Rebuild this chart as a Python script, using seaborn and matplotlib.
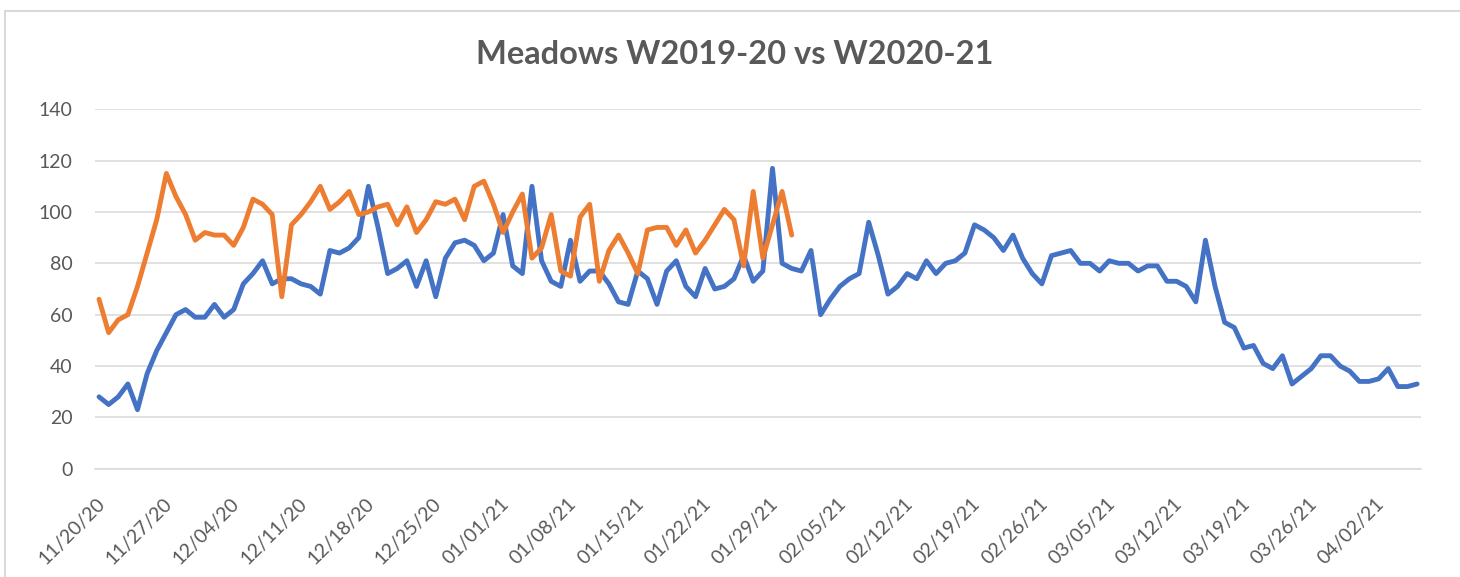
import numpy as np
import pandas as pd
import matplotlib
matplotlib.use("Agg")
import matplotlib.pyplot as plt
import matplotlib.dates as mdates
from matplotlib.patches import Rectangle
from matplotlib.transforms import ScaledTranslation
import seaborn as sns

# daily values, 11/20/20 onwards
blue_vals = [28, 25, 28, 33, 23, 37, 46, 53, 60, 62, 59, 59, 64, 59, 62, 72, 76, 81, 72, 74,
             74, 72, 71, 68, 85, 84, 86, 90, 110, 94, 76,
             78, 81, 71, 81, 67, 82, 88, 89, 87, 81, 84, 99, 79, 76, 110, 81, 73, 71, 89,
             73, 77, 77, 72, 65, 64, 77, 74, 64, 77,
             81, 71, 67, 78, 70, 71, 74, 83, 73, 77, 117, 80, 78, 77, 85, 60, 66, 71, 74, 76,
             96, 83, 68, 71, 76, 74, 81, 76, 80,
             81, 84, 95, 93, 90, 85, 91, 82, 76, 72, 83, 84, 85, 80, 80, 77, 81, 80, 80, 77,
             79, 79, 73, 73, 71, 65, 89, 71, 57,
             55, 47, 48, 41, 39, 44, 33, 36, 39, 44, 44, 40, 38, 34, 34, 35, 39, 32, 32, 33]
orange_vals = [66, 53, 58, 60, 71, 84, 97, 115, 106, 99, 89, 92, 91, 91, 87, 94, 105, 103, 99, 67,
               95, 99, 104, 110, 101, 104, 108, 99, 100, 102, 103,
               95, 102, 92, 97, 104, 103, 105, 97, 110, 112, 103, 92, 100, 107, 82, 86, 99, 77, 75,
               98, 103, 73, 85, 91, 84, 76, 93, 94, 94,
               87, 93, 84, 89, 95, 101, 97, 79, 108, 82, 95, 108, 91]
start_date = "2020-11-20"
y_ticks = [0, 20, 40, 60, 80, 100, 120, 140]
title = "Meadows W2019-20 vs W2020-21"

dates = pd.date_range(start_date, periods=len(blue_vals), freq="D")
blue_df = pd.DataFrame({"date": dates, "value": blue_vals})
orange_df = pd.DataFrame({"date": dates[:len(orange_vals)], "value": orange_vals})

sns.set_theme(style="white")
plt.rcParams["font.family"] = ["Lato", "DejaVu Sans"]

grey_txt = "#595959"
grid_col = "#D9D9D9"

fig = plt.figure(figsize=(14.6, 5.77), dpi=100)
ax = fig.add_axes([95 / 1460, 1 - 468.7 / 577, (1420.7 - 95) / 1460, (468.7 - 109.3) / 577])

sns.lineplot(data=blue_df, x="date", y="value", color="#4472C4", linewidth=3.5, ax=ax)
sns.lineplot(data=orange_df, x="date", y="value", color="#ED7D31", linewidth=3.5, ax=ax)

ax.set_ylim(0, 140)
ax.set_yticks(y_ticks)
ax.set_xlim(dates[0] - pd.Timedelta(hours=10), dates[-1] + pd.Timedelta(hours=9))
ax.set_xticks(pd.date_range(start_date, dates[-1], freq="7D"))
ax.xaxis.set_major_formatter(mdates.DateFormatter("%m/%d/%y"))

ax.yaxis.grid(True, color=grid_col, linewidth=1.1)
ax.set_axisbelow(True)
for s in ["left", "right", "top"]:
    ax.spines[s].set_visible(False)
ax.spines["bottom"].set_color(grid_col)
ax.spines["bottom"].set_linewidth(1.1)

ax.tick_params(axis="y", length=0, pad=16, labelsize=14, labelcolor=grey_txt)
ax.tick_params(axis="x", length=0, pad=23, labelsize=14, labelcolor=grey_txt)
for lbl in ax.get_xticklabels():
    lbl.set_rotation(45)
    lbl.set_rotation_mode("anchor")
    lbl.set_ha("right")
    lbl.set_va("center")
    lbl.set_transform(lbl.get_transform() + ScaledTranslation(3 / 100, 0, fig.dpi_scale_trans))

ax.set_xlabel("")
ax.set_ylabel("")

fig.text(735 / 1460, 1 - 55 / 577, title, ha="center", va="center",
         fontsize=23.5, fontweight="bold", color=grey_txt)

# chart border (only left/top visible in the crop)
fig.patches.append(Rectangle((5 / 1460, -0.2), 2, 1.2 - 11 / 577, transform=fig.transFigure,
                             fill=False, edgecolor=grid_col, linewidth=1.5))

fig.savefig("out.png", dpi=100)
